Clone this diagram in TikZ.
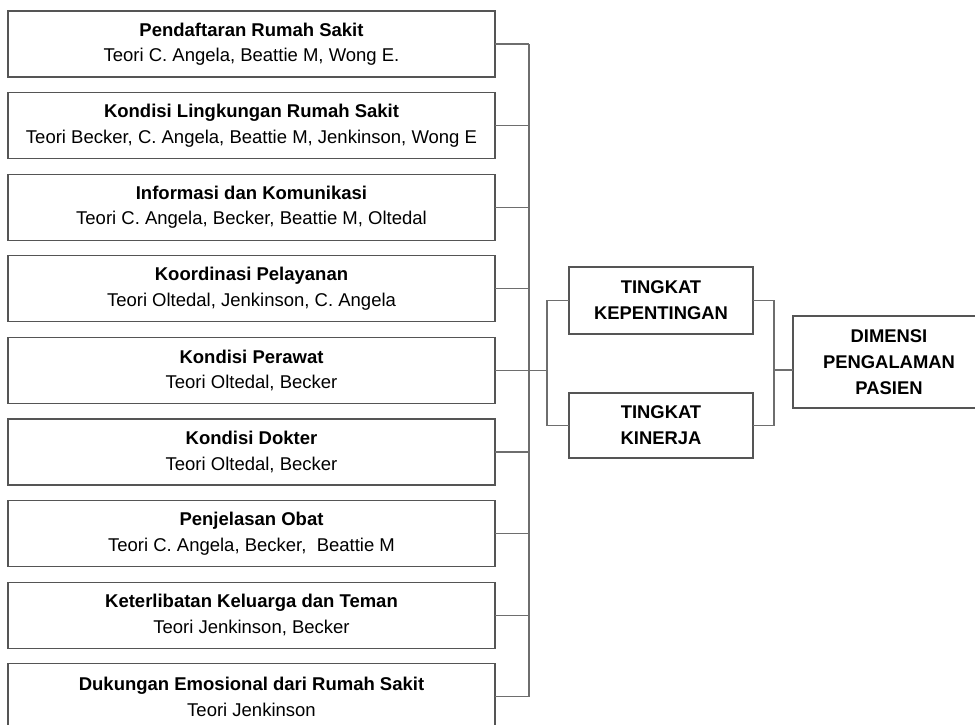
\documentclass[tikz,border=0pt]{standalone}
\usepackage{fontspec}
\setmainfont{Liberation Sans}
\definecolor{boxline}{RGB}{85,85,85}
\definecolor{conline}{RGB}{110,110,110}
\tikzset{
  leftbox/.style={draw=boxline, line width=1.3pt, anchor=north west, minimum width=487pt, minimum height=66pt, inner sep=0pt, outer sep=0pt, align=center, font=\fontsize{18.5}{25.5}\selectfont},
  midbox/.style={draw=boxline, line width=1.3pt, anchor=north west, inner sep=0pt, outer sep=0pt, align=center, font=\bfseries\fontsize{18.4}{26}\selectfont},
  conn/.style={draw=conline, line width=1.2pt}
}
\begin{document}
\begin{tikzpicture}[x=1pt,y=-1pt]
\useasboundingbox (0,0) rectangle (975,724);
\begin{scope}
\clip (0,0) rectangle (975,724);
\node[leftbox] (b1) at (8,11) {\textbf{Pendaftaran Rumah Sakit}\\Teori C. Angela, Beattie M, Wong E.};
\node[leftbox] (b2) at (8,92.6) {\textbf{Kondisi Lingkungan Rumah Sakit}\\Teori Becker, C. Angela, Beattie M, Jenkinson, Wong E};
\node[leftbox] (b3) at (8,174.2) {\textbf{Informasi dan Komunikasi}\\Teori C. Angela, Becker, Beattie M, Oltedal};
\node[leftbox] (b4) at (8,255.8) {\textbf{Koordinasi Pelayanan}\\Teori Oltedal, Jenkinson, C. Angela};
\node[leftbox] (b5) at (8,337.4) {\textbf{Kondisi Perawat}\\Teori Oltedal, Becker};
\node[leftbox] (b6) at (8,419) {\textbf{Kondisi Dokter}\\Teori Oltedal, Becker};
\node[leftbox] (b7) at (8,500.6) {\textbf{Penjelasan Obat}\\Teori C. Angela, Becker,\ \ Beattie M};
\node[leftbox] (b8) at (8,582.2) {\textbf{Keterlibatan Keluarga dan Teman}\\Teori Jenkinson, Becker};
\node[leftbox] (b9) at (8,663.8) {\textbf{Dukungan Emosional dari Rumah Sakit}\\Teori Jenkinson};

\node[midbox, minimum width=184pt, minimum height=67pt] (tk) at (569,267) {TINGKAT\\KEPENTINGAN};
\node[midbox, minimum width=184pt, minimum height=65pt] (tn) at (569,393) {TINGKAT\\KINERJA};
\node[midbox, minimum width=192pt, minimum height=92pt] (dim) at (793,316) {DIMENSI\\PENGALAMAN\\PASIEN};

\coordinate (bus) at (529,0);
\coordinate (brl) at (547,0);
\coordinate (brr) at (774,0);

\foreach \i in {1,...,9} {
  \draw[conn] (b\i.east) -- (b\i.east -| bus);
}
\draw[conn] (b1.east -| bus) -- (b9.east -| bus);
\draw[conn] (b5.east -| bus) -- (b5.east -| brl);
\draw[conn] (tk.west) -- (tk.west -| brl) -- (tn.west -| brl) -- (tn.west);
\draw[conn] (tk.east) -- (tk.east -| brr) -- (tn.east -| brr) -- (tn.east);
\coordinate (dj) at (774,370);
\draw[conn] (dj) -- (dj -| dim.west);
\end{scope}
\end{tikzpicture}
\end{document}
